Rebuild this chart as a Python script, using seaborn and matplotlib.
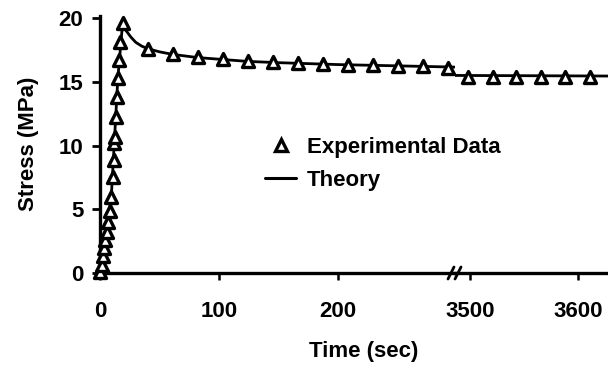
import matplotlib
matplotlib.use("Agg")
import matplotlib.pyplot as plt
from matplotlib.lines import Line2D
import seaborn as sns
import pandas as pd

# ---- data ----
load_time = [0, 1.5, 2.5, 3.5, 4.5, 5.5, 7, 8.5, 9.5, 11, 11.5, 12, 12.5, 13.5, 14.5, 15, 16, 17, 19]
load_stress = [0.1, 0.6, 1.3, 2.0, 2.6, 3.2, 4.0, 4.9, 6.0, 7.5, 8.9, 10.2, 10.7, 12.2, 13.8, 15.3, 16.7, 18.1, 19.6]

relax_time = [40, 61, 82, 103, 124, 145, 166, 187, 208, 229, 250, 271, 292]
relax_stress = [17.6, 17.2, 16.95, 16.75, 16.6, 16.55, 16.45, 16.4, 16.35, 16.3, 16.25, 16.2, 16.1]

late_time = [3498, 3521, 3543, 3566, 3588, 3611]
late_stress = [15.4, 15.4, 15.4, 15.4, 15.4, 15.4]

theory_time = [0, 4.5, 9.5, 12, 15, 19, 22, 26, 30, 35, 40, 50, 61, 82, 103, 124, 150, 200, 250, 300]
theory_stress = [0, 2.6, 6.0, 10.2, 15.3, 19.6, 19.0, 18.5, 18.1, 17.8, 17.6, 17.35, 17.15, 16.9,
                 16.75, 16.6, 16.5, 16.35, 16.25, 16.15]
theory_late_time = [3480, 3630]
theory_late_stress = [15.5, 15.45]

y_ticks = [0, 5, 10, 15, 20]
x_ticks_left = [0, 100, 200]
x_ticks_right = [3500, 3600]

# ---- style ----
sns.set_theme(style="white")
plt.rcParams["font.family"] = ["Liberation Sans", "DejaVu Sans"]
plt.rcParams["font.weight"] = "bold"
plt.rcParams["text.color"] = "black"
plt.rcParams["axes.labelcolor"] = "black"
plt.rcParams["xtick.color"] = "black"
plt.rcParams["ytick.color"] = "black"
FS = 16

W, H = 608, 366
fig = plt.figure(figsize=(W / 100, H / 100), dpi=100)
fig.patch.set_facecolor("white")

bottom = 1 - 273 / H
height = (273 - 15.5) / H
ax1 = fig.add_axes([100 / W, bottom, 355 / W, height])
ax2 = fig.add_axes([455 / W, bottom, 153 / W, height])

exp_df = pd.DataFrame({"t": load_time + relax_time, "s": load_stress + relax_stress})
late_df = pd.DataFrame({"t": late_time, "s": late_stress})
th_df = pd.DataFrame({"t": theory_time, "s": theory_stress})
th2_df = pd.DataFrame({"t": theory_late_time, "s": theory_late_stress})

for ax, edf, tdf in [(ax1, exp_df, th_df), (ax2, late_df, th2_df)]:
    ax.patch.set_visible(False)
    sns.lineplot(data=tdf, x="t", y="s", color="black", linewidth=2.0,
                 sort=False, estimator=None, ax=ax, zorder=2)
    sns.scatterplot(data=edf, x="t", y="s", marker="^", s=75, facecolor="white",
                    edgecolor="black", linewidth=2.4, ax=ax, zorder=3, clip_on=False)
    ax.set_ylim(0, 20.2)
    ax.set_xlabel("")
    ax.set_ylabel("")
    for side in ["top", "right"]:
        ax.spines[side].set_visible(False)
    ax.spines["bottom"].set_linewidth(2.4)
    ax.spines["bottom"].set_color("black")

ax1.set_xlim(0, 298.3)
ax2.set_xlim(3486.1, 3627.8)

ax1.spines["left"].set_linewidth(2.4)
ax1.spines["left"].set_color("black")
ax2.spines["left"].set_visible(False)

ax1.set_yticks(y_ticks)
ax1.set_yticklabels([str(v) for v in y_ticks], fontsize=FS, fontweight="bold", color="black")
ax1.set_xticks(x_ticks_left)
ax1.set_xticklabels([str(v) for v in x_ticks_left], fontsize=FS, fontweight="bold", color="black")
ax2.set_xticks(x_ticks_right)
ax2.set_xticklabels([str(v) for v in x_ticks_right], fontsize=FS, fontweight="bold", color="black")
ax2.set_yticks([])

ax1.tick_params(axis="y", direction="out", length=6, width=2, pad=6, left=True, colors="black")
for ax in (ax1, ax2):
    ax.tick_params(axis="x", direction="out", length=5, width=1.8, pad=15, bottom=True, colors="black")

ax1.set_ylabel("Stress (MPa)", fontsize=FS, fontweight="bold", labelpad=14, color="black")
fig.text(364 / W, 1 - 351 / H, "Time (sec)", fontsize=FS, fontweight="bold",
         ha="center", va="center", color="black")

# axis break marks
for x0 in (448, 455):
    fig.add_artist(Line2D([x0 / W, (x0 + 6) / W], [1 - 279 / H, 1 - 267 / H],
                          color="black", linewidth=2.0, transform=fig.transFigure))

# legend
handles = [
    Line2D([], [], marker="^", linestyle="none", markersize=9, markerfacecolor="white",
           markeredgecolor="black", markeredgewidth=2.4),
    Line2D([], [], color="black", linewidth=2.2),
]
leg = fig.legend(handles, ["Experimental Data", "Theory"], loc="upper left",
                 bbox_to_anchor=(265 / W, 1 - 137 / H), bbox_transform=fig.transFigure,
                 frameon=False, handlelength=1.4, handletextpad=0.5,
                 labelspacing=0.55, borderpad=0, borderaxespad=0,
                 prop={"weight": "bold", "size": FS})
for t in leg.get_texts():
    t.set_color("black")

fig.savefig("out.png", dpi=100, facecolor="white")
